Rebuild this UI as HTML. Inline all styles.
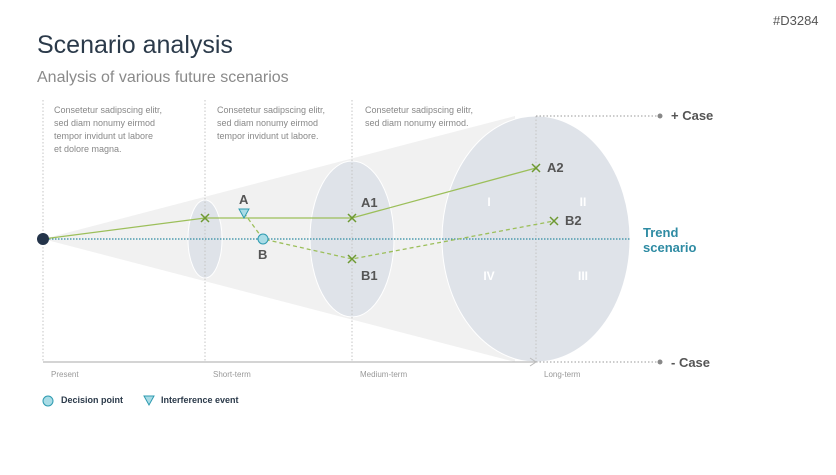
<!DOCTYPE html>
<html><head><meta charset="utf-8"><style>
body{margin:0;width:836px;height:470px;background:#fff;overflow:hidden}
svg text{font-family:"Liberation Sans",sans-serif}
</style></head><body>
<svg width="836" height="470" viewBox="0 0 836 470" xmlns="http://www.w3.org/2000/svg">
<text x="773" y="25" font-size="13" fill="#555">#D3284</text>
<text x="37" y="53" font-size="25" fill="#2b3a4a">Scenario analysis</text>
<text x="37" y="82" font-size="16" fill="#8a8a8a">Analysis of various future scenarios</text>
<polygon points="43,239 515,116 515,362" fill="#f1f1f1"/>
<ellipse cx="536" cy="239" rx="94" ry="123" fill="#dfe3e9" stroke="#fff" stroke-width="1"/>
<ellipse cx="352" cy="239" rx="42" ry="78" fill="#dfe3e9" stroke="#fff"/>
<ellipse cx="205" cy="239" rx="17" ry="39" fill="#dfe3e9" stroke="#fff"/>
<g stroke="#c4c4c4" stroke-dasharray="1.5,2" stroke-width="1">
<line x1="43" y1="100" x2="43" y2="362"/>
<line x1="205" y1="100" x2="205" y2="362"/>
<line x1="352" y1="100" x2="352" y2="362"/>
<line x1="536" y1="116" x2="536" y2="362"/>
</g>
<g stroke="#999" stroke-dasharray="1.5,2"><line x1="536" y1="116" x2="660" y2="116"/><line x1="536" y1="362" x2="660" y2="362"/></g>
<circle cx="660" cy="116" r="2.5" fill="#888"/><circle cx="660" cy="362" r="2.5" fill="#888"/>
<line x1="43" y1="362" x2="535" y2="362" stroke="#bbb" stroke-width="1.2"/>
<polyline points="530,358 536,362 530,366" fill="none" stroke="#bbb"/>
<line x1="43" y1="239" x2="630" y2="239" stroke="#2e8ba3" stroke-dasharray="1.5,1.5" stroke-width="1.3"/>
<g fill="#fff" font-size="12" font-weight="bold" text-anchor="middle">
<text x="489" y="206">I</text><text x="583" y="206">II</text><text x="489" y="280">IV</text><text x="583" y="280">III</text></g>
<polyline points="43,239 205,218 352,218 536,168" fill="none" stroke="#9cbf5a" stroke-width="1.3"/>
<polyline points="244,213 263,239 352,259 554,221" fill="none" stroke="#9cbf5a" stroke-width="1.3" stroke-dasharray="4,3"/>
<g stroke="#6e9a32" stroke-width="1.5">
<path d="M201,214l8,8M209,214l-8,8"/><path d="M348,214l8,8M356,214l-8,8"/>
<path d="M532,164l8,8M540,164l-8,8"/><path d="M550,217l8,8M558,217l-8,8"/>
<path d="M348,255l8,8M356,255l-8,8"/></g>
<circle cx="43" cy="239" r="6" fill="#24344a"/>
<polygon points="239,209 249,209 244,218" fill="#a9dce6" stroke="#2e9bb0"/>
<circle cx="263" cy="239" r="5" fill="#a9dce6" stroke="#2e9bb0"/>
<g fill="#555" font-size="13" font-weight="bold">
<text x="239" y="204">A</text><text x="258" y="259">B</text>
<text x="361" y="207">A1</text><text x="361" y="280">B1</text>
<text x="547" y="172">A2</text><text x="565" y="225">B2</text>
<text x="671" y="120">+ Case</text><text x="671" y="367">- Case</text></g>
<text x="643" y="237" font-size="13" font-weight="bold" fill="#2e8ba3">Trend</text>
<text x="643" y="252" font-size="13" font-weight="bold" fill="#2e8ba3">scenario</text>
<g fill="#888" font-size="9">
<text x="54" y="113">Consetetur sadipscing elitr,</text><text x="54" y="126">sed diam nonumy eirmod</text>
<text x="54" y="139">tempor invidunt ut labore</text><text x="54" y="152">et dolore magna.</text>
<text x="217" y="113">Consetetur sadipscing elitr,</text><text x="217" y="126">sed diam nonumy eirmod</text>
<text x="217" y="139">tempor invidunt ut labore.</text>
<text x="365" y="113">Consetetur sadipscing elitr,</text><text x="365" y="126">sed diam nonumy eirmod.</text>
</g>
<g fill="#999" font-size="8">
<text x="51" y="377">Present</text><text x="213" y="377">Short-term</text>
<text x="360" y="377">Medium-term</text><text x="544" y="377">Long-term</text></g>
<circle cx="48" cy="401" r="5" fill="#a9dce6" stroke="#2e9bb0"/>
<polygon points="144,396 154,396 149,405" fill="#a9dce6" stroke="#2e9bb0"/>
<g fill="#2b3a4a" font-size="9" font-weight="bold">
<text x="61" y="403">Decision point</text><text x="161" y="403">Interference event</text></g>
</svg>
</body></html>
